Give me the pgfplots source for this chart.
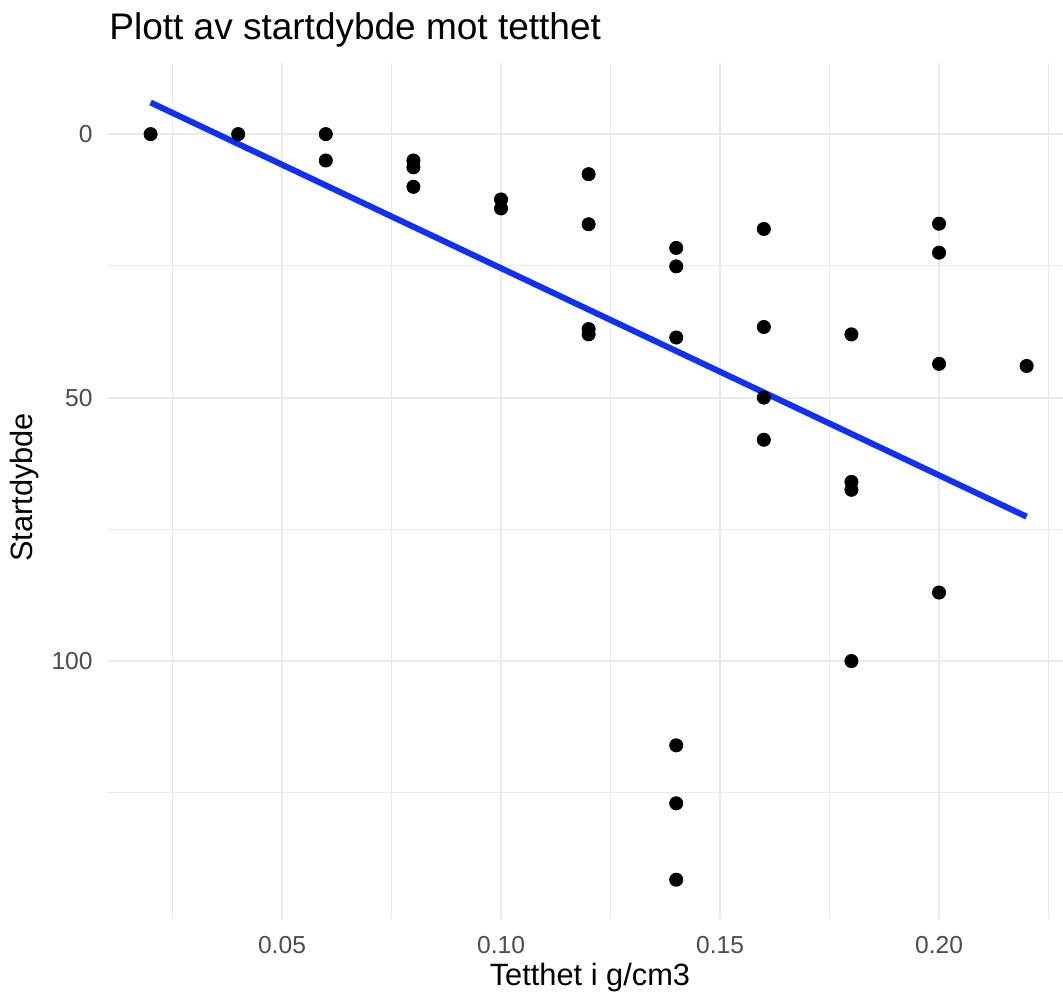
\documentclass[border=0pt]{standalone}
\usepackage{fontspec}
\setmainfont{Liberation Sans}
\usepackage{pgfplots}
\usepackage{pgfplotstable}
\pgfplotsset{compat=1.18}

\definecolor{gridgrey}{HTML}{EBEBEB}
\definecolor{ticktext}{HTML}{4D4D4D}
\definecolor{fitblue}{HTML}{1030F5}

% Start depth (y) against density in g/cm3 (x)
\pgfplotstableread{
x     y
0.02  0
0.04  0
0.06  0
0.06  5
0.08  5
0.08  6.3
0.08  10
0.10  12.4
0.10  14.1
0.12  7.6
0.12  17.1
0.12  37
0.12  38
0.14  21.6
0.14  25.1
0.14  38.6
0.14  116
0.14  127
0.14  141.5
0.16  18
0.16  36.6
0.16  50
0.16  58
0.18  38
0.18  66
0.18  67.5
0.18  100
0.20  17
0.20  22.5
0.20  43.6
0.20  87
0.22  44
}\depthdata

% Linear fit, evaluated at the ends of the density range
\pgfplotstableread{
x     y
0.02  -6.0
0.22  72.6
}\fitdata

\begin{document}
\begin{tikzpicture}
\useasboundingbox (-53.4bp,-38.15bp) rectangle (478.1bp,459.35bp);
\begin{axis}[
  at={(0,0)}, anchor=south west,
  scale only axis,
  width=478.1bp, height=427.85bp,
  xmin=0.01, xmax=0.2283,
  ymin=-13.5, ymax=148.9,
  y dir=reverse,
  axis line style={draw=none},
  tick style={draw=none},
  major tick length=0pt, minor tick length=0pt,
  grid=both,
  major grid style={gridgrey, line width=1bp},
  minor grid style={gridgrey, line width=0.6bp},
  xtick={0.05,0.1,0.15,0.2},
  xticklabels={0.05,0.10,0.15,0.20},
  minor xtick={0.025,0.075,0.125,0.175,0.225},
  ytick={0,50,100},
  yticklabels={0,50,100},
  minor ytick={25,75,125},
  /pgf/number format/assume math mode=true,
  tick label style={font=\fontsize{12.3bp}{14bp}\selectfont, text=ticktext, inner sep=0pt},
  xticklabel style={anchor=base, yshift=-17.15bp},
  yticklabel style={anchor=east, xshift=-6.9bp},
  every axis title shift=0pt,
  title={Plott av startdybde mot tetthet},
  title style={at={(axis description cs:0.0023,1.0277)}, anchor=base west,
    font=\fontsize{18.5bp}{22bp}\selectfont, inner sep=0pt},
  xlabel={Tetthet i g/cm3},
  xlabel style={at={(axis description cs:0.5053,-0.0775)}, anchor=base,
    font=\fontsize{15.4bp}{18bp}\selectfont, inner sep=0pt},
  ylabel={Startdybde},
  ylabel style={at={(axis description cs:-0.0772,0.504)}, rotate=0, anchor=base,
    font=\fontsize{15.4bp}{18bp}\selectfont, inner sep=0pt},
]
\addplot[only marks, mark=*, mark size=3.3bp, draw=black, fill=black] table {\depthdata};
\addplot[fitblue, line width=3bp, no marks] table {\fitdata};
\end{axis}
\end{tikzpicture}
\end{document}
